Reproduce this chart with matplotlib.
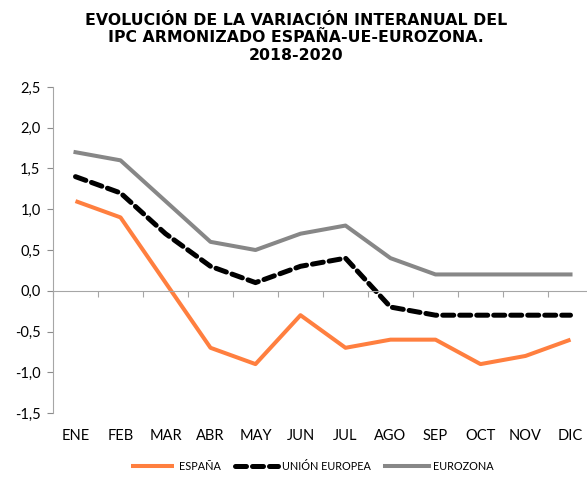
import numpy as np
import matplotlib
matplotlib.use('Agg')
import matplotlib.pyplot as plt
import matplotlib.transforms as mtransforms

months = ['ENE', 'FEB', 'MAR', 'ABR', 'MAY', 'JUN', 'JUL', 'AGO', 'SEP', 'OCT', 'NOV', 'DIC']
espana = [1.1, 0.9, 0.1, -0.7, -0.9, -0.3, -0.7, -0.6, -0.6, -0.9, -0.8, -0.6]
union_europea = [1.4, 1.2, 0.7, 0.3, 0.1, 0.3, 0.4, -0.2, -0.3, -0.3, -0.3, -0.3]
eurozona = [1.7, 1.6, 1.1, 0.6, 0.5, 0.7, 0.8, 0.4, 0.2, 0.2, 0.2, 0.2]
y_ticks = [-1.5, -1.0, -0.5, 0.0, 0.5, 1.0, 1.5, 2.0, 2.5]

plt.rcParams['font.family'] = ['Lato', 'DejaVu Sans']

fig = plt.figure(figsize=(5.87, 4.8), dpi=100)
ax = fig.add_axes([53 / 587, 67 / 480, 540 / 587, 326 / 480])

x = np.arange(len(months))
ax.plot(x, espana, color='#FF7F3F', lw=2.9, solid_capstyle='butt', label='ESPAÑA')
ax.plot(x, union_europea, color='black', lw=3.6, linestyle=(0, (2.2, 1.2)),
        dash_capstyle='round', label='UNIÓN EUROPEA')
ax.plot(x, eurozona, color='#878787', lw=2.9, label='EUROZONA')

ax.set_xlim(-0.5, len(months) - 0.5)
ax.set_ylim(-1.5, 2.5)
ax.set_yticks(y_ticks)
ax.set_yticklabels([f'{v:.1f}'.replace('.', ',') for v in y_ticks], fontsize=10.5)
ax.tick_params(axis='y', length=4, color='#8c8c8c', pad=5)

# horizontal axis at zero with ticks between categories
for s in ['top', 'right']:
    ax.spines[s].set_visible(False)
ax.spines['bottom'].set_position(('data', 0))
ax.spines['bottom'].set_color('#a6a6a6')
ax.spines['left'].set_color('#a6a6a6')
ax.set_xticks(np.arange(len(months) + 1) - 0.5)
ax.set_xticklabels([])
ax.tick_params(axis='x', length=4, color='#a6a6a6', direction='out')

trans = mtransforms.blended_transform_factory(ax.transData, ax.transAxes)
for i, m in enumerate(months):
    ax.text(i, -0.07, m, transform=trans, ha='center', va='center', fontsize=10.5)

fig.text(0.504, 0.921, 'EVOLUCIÓN DE LA VARIACIÓN INTERANUAL DEL\nIPC ARMONIZADO ESPAÑA-UE-EUROZONA.\n2018-2020',
         ha='center', va='center', fontsize=11.3, fontweight='bold',
         family='DejaVu Sans', linespacing=1.2)

leg = fig.legend(loc='center', bbox_to_anchor=(0.532, 0.029), ncol=3, frameon=False,
                 fontsize=7.8, handlelength=4.0, columnspacing=1.3, handletextpad=0.4)

plt.savefig('out.png', dpi=100)
